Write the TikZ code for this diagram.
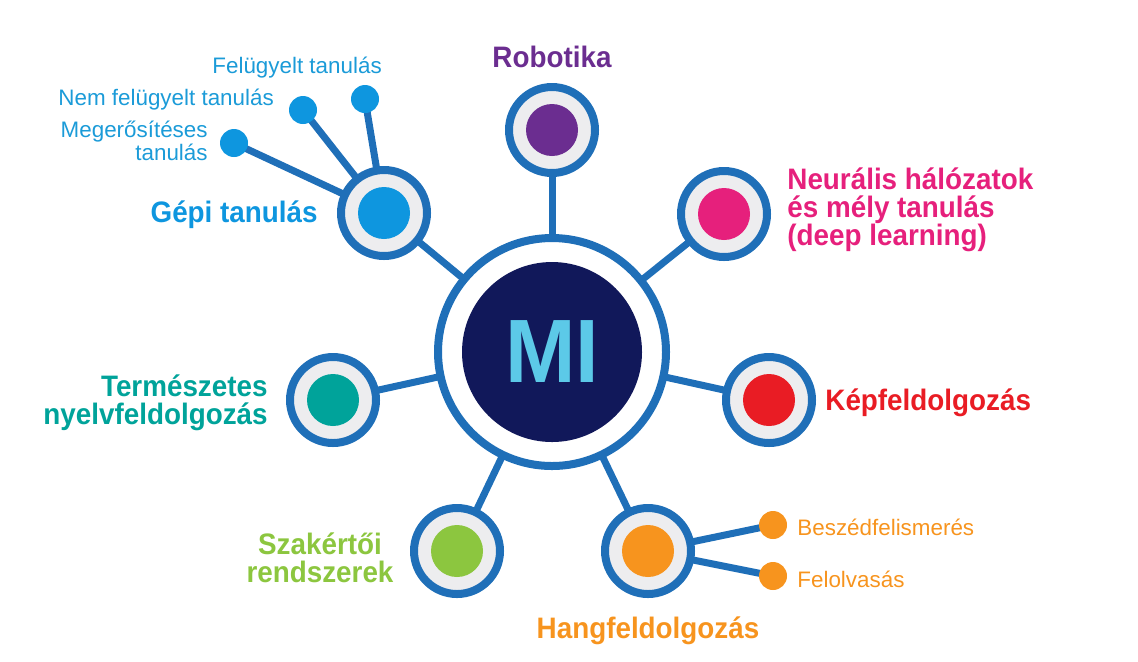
\documentclass[tikz,border=0pt]{standalone}
\usepackage{fontspec}
\setmainfont{Liberation Sans}[BoldFeatures={FakeStretch=0.94}]
\usetikzlibrary{backgrounds}
\definecolor{ringblue}{HTML}{1F6FB8}
\definecolor{ringgrey}{HTML}{EDEDEF}
\definecolor{navy}{HTML}{11185A}
\definecolor{micyan}{HTML}{5CC9E8}
\definecolor{cgepi}{HTML}{0E96DF}
\definecolor{cgepitxt}{HTML}{1B9BD8}
\definecolor{crob}{HTML}{6B2D90}
\definecolor{cneur}{HTML}{E6207C}
\definecolor{ckep}{HTML}{E91C24}
\definecolor{cterm}{HTML}{00A39A}
\definecolor{cszak}{HTML}{8CC63F}
\definecolor{chang}{HTML}{F7941E}
\newcommand\mybigfont{\bfseries\fontsize{14.8}{14}\selectfont\lineskiplimit-20pt\relax}
\newcommand\mysmallfont{\fontsize{11.2}{11.5}\selectfont\lineskiplimit-20pt\relax}
\begin{document}
\begin{tikzpicture}[x=0.5pt,y=-0.5pt,
  sat/.style={circle, draw=ringblue, line width=4pt, fill=ringgrey, minimum size=43pt, inner sep=0pt},
  core/.style={circle, minimum size=26pt, inner sep=0pt},
  leaf/.style={circle, minimum size=14pt, inner sep=0pt},
  link/.style={draw=ringblue, line width=3.5pt},
  big/.style={font=\mybigfont, inner sep=0pt},
  small/.style={font=\mysmallfont, inner sep=0pt}]
\useasboundingbox (0,0) rectangle (1138,661);

% central node
\node[circle, draw=ringblue, line width=4pt, fill=white, minimum size=114pt, inner sep=0pt] (ring) at (552,352) {};
\node[circle, fill=navy, minimum size=90pt, inner sep=0pt, text=micyan, font=\bfseries\fontsize{45}{45}\selectfont] (mi) at (552,352) {MI};

% satellites
\node[sat] (rob) at (552,130) {};
\node[core, fill=crob] (robc) at (rob) {};
\node[sat] (gepi) at (384,213) {};
\node[core, fill=cgepi] (gepic) at (gepi) {};
\node[sat] (neur) at (724,214) {};
\node[core, fill=cneur] (neurc) at (neur) {};
\node[sat] (kep) at (769,400) {};
\node[core, fill=ckep] (kepc) at (kep) {};
\node[sat] (term) at (333,400) {};
\node[core, fill=cterm] (termc) at (term) {};
\node[sat] (szak) at (457,551) {};
\node[core, fill=cszak] (szakc) at (szak) {};
\node[sat] (hang) at (648,551) {};
\node[core, fill=chang] (hangc) at (hang) {};

% leaves
\node[leaf, fill=cgepi] (felu) at (365,99) {};
\node[leaf, fill=cgepi] (nemf) at (303,110) {};
\node[leaf, fill=cgepi] (meg) at (234,143) {};
\node[leaf, fill=chang] (besz) at (773,525) {};
\node[leaf, fill=chang] (felo) at (773,576) {};

% connectors
\begin{scope}[on background layer]
\foreach \s in {rob,gepi,neur,kep,term,szak,hang}
  \draw[link] (ring.center) -- (\s.center);
\foreach \s in {felu,nemf,meg}
  \draw[link] (\s.center) -- (gepi.center);
\foreach \s in {besz,felo}
  \draw[link] (\s.center) -- (hang.center);
\end{scope}

% labels
\node[big, text=crob, anchor=base] (lrob) at (552,67) {Robotika};
\node[big, text=cgepi, anchor=base east] (lgepi) at (318,222) {Gépi tanulás};
\node[big, text=cneur, anchor=west, align=left] (lneur) at (787,210) {Neurális hálózatok\\és mély tanulás\\(deep learning)};
\node[big, text=ckep, anchor=base west] (lkep) at (825,410) {Képfeldolgozás};
\node[big, text=cterm, anchor=east, align=right] (lterm) at (268,403) {Természetes\\nyelvfeldolgozás};
\node[big, text=cszak, align=center] (lszak) at (320,558) {Szakértői\\rendszerek};
\node[big, text=chang, anchor=base] (lhang) at (648,638) {Hangfeldolgozás};

\node[small, text=cgepitxt, anchor=base west] (lfelu) at (212,73) {Felügyelt tanulás};
\node[small, text=cgepitxt, anchor=base west] (lnemf) at (58,105) {Nem felügyelt tanulás};
\node[small, text=cgepitxt, anchor=east, align=right] (lmeg) at (208,141) {Megerősítéses\\tanulás};
\node[small, text=chang, anchor=base west] (lbesz) at (797,535) {Beszédfelismerés};
\node[small, text=chang, anchor=base west] (lfelo) at (797,587) {Felolvasás};
\end{tikzpicture}
\end{document}
